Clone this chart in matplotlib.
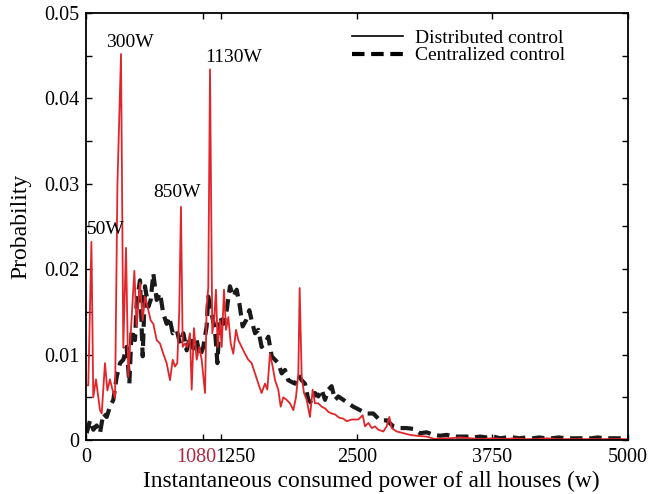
import matplotlib.pyplot as plt
import matplotlib.transforms as mtransforms
from matplotlib.lines import Line2D

# distributed control (red)
dist_power = [0, 21, 50, 67, 92, 129, 145, 175, 197, 221, 246, 268, 290, 323, 344, 369,
              390, 406, 446, 467, 498, 523, 544, 575, 597, 621, 652, 683, 713, 744, 775,
              800, 821, 842, 860, 876, 892, 913, 935, 959, 975, 996, 1021, 1046, 1067,
              1098, 1113, 1128, 1144, 1165, 1184, 1199, 1215, 1236, 1252, 1273, 1292,
              1313, 1335, 1359, 1384, 1405, 1436, 1467, 1497, 1528, 1559, 1590, 1620,
              1651, 1673, 1697, 1722, 1744, 1774, 1796, 1820, 1851, 1882, 1913, 1937,
              1959, 1971, 1990, 2011, 2036, 2066, 2091, 2112, 2143, 2174, 2205, 2236,
              2266, 2297, 2337, 2374, 2405, 2451, 2512, 2552, 2574, 2605, 2636, 2666,
              2697, 2743, 2774, 2798, 2820, 2866, 2928, 2989, 3050, 3143, 3220, 3266,
              3350, 3450, 3550, 3650, 3750, 3850, 3950, 4050, 4150, 4250, 4350, 4450,
              4550, 4650, 4750, 4850, 4950, 5000]
dist_prob = [0.0064, 0.0064, 0.0232, 0.0050, 0.0071, 0.0035, 0.0031, 0.0090, 0.0058,
             0.0071, 0.0058, 0.0049, 0.0300, 0.0452, 0.0108, 0.0225, 0.0074, 0.0109,
             0.0198, 0.0133, 0.0184, 0.0140, 0.0168, 0.0152, 0.0140, 0.0136, 0.0117,
             0.0113, 0.0101, 0.0090, 0.0070, 0.0094, 0.0086, 0.0090, 0.0150, 0.0273,
             0.0109, 0.0113, 0.0109, 0.0125, 0.0059, 0.0131, 0.0094, 0.0109, 0.0094,
             0.0055, 0.0156, 0.0178, 0.0434, 0.0125, 0.0144, 0.0176, 0.0109, 0.0140,
             0.0109, 0.0176, 0.0129, 0.0144, 0.0113, 0.0101, 0.0129, 0.0117, 0.0109,
             0.0101, 0.0094, 0.0090, 0.0078, 0.0066, 0.0055, 0.0066, 0.0059, 0.0101,
             0.0086, 0.0070, 0.0059, 0.0039, 0.0050, 0.0047, 0.0043, 0.0035, 0.0050,
             0.0078, 0.0178, 0.0074, 0.0055, 0.0047, 0.0027, 0.0059, 0.0043, 0.0043,
             0.0039, 0.0037, 0.0033, 0.0031, 0.0030, 0.0026, 0.0025, 0.0022, 0.0024,
             0.0024, 0.0029, 0.0016, 0.0020, 0.0014, 0.0016, 0.0012, 0.0010, 0.0016,
             0.0027, 0.0014, 0.0010, 0.0008, 0.0006, 0.0005, 0.0004, 0.0001, 0.0002,
             0.0002, 0.0003, 0.0002, 0.0001, 0.0002, 0.0001, 0.0002, 0.0001, 0.0001,
             0.0002, 0.0001, 0.0001, 0.0001, 0.0001, 0.0001, 0.0001, 0.0001, 0.0001]

# centralized control (black dashed)
cent_power = [6, 37, 68, 98, 129, 160, 191, 221, 252, 283, 314, 344, 375, 400, 421, 452,
              467, 498, 523, 544, 575, 597, 621, 652, 683, 713, 744, 768, 800, 837, 867,
              898, 929, 959, 990, 1021, 1052, 1082, 1113, 1128, 1159, 1190, 1212, 1236,
              1267, 1298, 1328, 1359, 1390, 1415, 1445, 1476, 1507, 1528, 1559, 1590,
              1620, 1651, 1682, 1713, 1744, 1774, 1805, 1836, 1866, 1897, 1928, 1959,
              1990, 2020, 2051, 2082, 2112, 2143, 2174, 2205, 2236, 2266, 2297, 2328,
              2374, 2420, 2466, 2528, 2589, 2651, 2712, 2774, 2835, 2897, 2958, 3020,
              3081, 3143, 3205, 3266, 3328, 3389, 3450, 3512, 3573, 3635, 3700, 3760,
              3820, 3880, 3940, 4000, 4060, 4120, 4180, 4240, 4300, 4360, 4420, 4480,
              4540, 4600, 4660, 4720, 4780, 4840, 4900, 4960, 5000]
cent_prob = [0.0008, 0.0023, 0.0012, 0.0017, 0.0008, 0.0031, 0.0027, 0.0039, 0.0047,
             0.0074, 0.0090, 0.0094, 0.0109, 0.0066, 0.0129, 0.0117, 0.0160, 0.0187,
             0.0098, 0.0180, 0.0156, 0.0164, 0.0195, 0.0164, 0.0172, 0.0148, 0.0136,
             0.0144, 0.0125, 0.0129, 0.0113, 0.0125, 0.0105, 0.0121, 0.0107, 0.0117,
             0.0098, 0.0109, 0.0133, 0.0168, 0.0148, 0.0129, 0.0090, 0.0144, 0.0136,
             0.0152, 0.0180, 0.0168, 0.0176, 0.0160, 0.0133, 0.0140, 0.0152, 0.0140,
             0.0125, 0.0129, 0.0109, 0.0113, 0.0121, 0.0098, 0.0094, 0.0090, 0.0078,
             0.0082, 0.0070, 0.0068, 0.0066, 0.0076, 0.0070, 0.0066, 0.0047, 0.0043,
             0.0055, 0.0051, 0.0059, 0.0047, 0.0059, 0.0063, 0.0047, 0.0051, 0.0047,
             0.0043, 0.0039, 0.0035, 0.0031, 0.0031, 0.0023, 0.0023, 0.0016, 0.0014,
             0.0014, 0.0013, 0.0008, 0.0009, 0.0006, 0.0005, 0.0006, 0.0004, 0.0004,
             0.0004, 0.0003, 0.0004, 0.0003, 0.0004, 0.0002, 0.0003, 0.0003, 0.0002,
             0.0003, 0.0002, 0.0003, 0.0002, 0.0002, 0.0003, 0.0002, 0.0002, 0.0002,
             0.0002, 0.0002, 0.0003, 0.0002, 0.0002, 0.0002, 0.0002, 0.0002]

peak_labels = ['50W', '300W', '850W', '1130W']
peak_pos = [185, 403, 840, 1365]
peak_y = [0.0247, 0.0466, 0.0290, 0.0448]

x_ticks = [0, 1080, 1250, 2500, 3750, 5000]
y_ticks = [0, 0.01, 0.02, 0.03, 0.04, 0.05]
y_tick_labels = ['0', '0.01', '0.02', '0.03', '0.04', '0.05']

plt.rcParams['font.family'] = ['Liberation Serif', 'DejaVu Serif']

fig = plt.figure(figsize=(6.53, 4.94), dpi=100)
ax = fig.add_axes([0.1317, 0.1093, 0.83, 0.8644])

ax.plot(cent_power, cent_prob, color='#1a1a1a', lw=3.0, dashes=(3.0, 1.6))
ax.plot(dist_power, dist_prob, color='#e0262b', lw=1.3)

for lab, px, py in zip(peak_labels, peak_pos, peak_y):
    ax.text(px, py, lab, ha='center', va='center', fontsize=14)

ax.set_xlim(0, 5000)
ax.set_ylim(0, 0.05)
ax.set_xticks(x_ticks)
ax.set_xticklabels([str(t) for t in x_ticks])
ax.set_yticks(y_ticks)
ax.set_yticklabels(y_tick_labels)
ax.set_yticks([0.005, 0.015, 0.025, 0.035, 0.045], minor=True)
ax.tick_params(which='both', direction='in', top=True, right=True, length=4,
               width=1.0, labelsize=14.5)
ax.tick_params(axis='x', pad=6)
ax.tick_params(axis='y', pad=5)

# the two crowded labels are nudged apart, as in the original
xl = ax.get_xticklabels()
xl[1].set_color('#b0283f')
xl[1].set_transform(xl[1].get_transform() +
                    mtransforms.ScaledTranslation(-7 / 100, 0, fig.dpi_scale_trans))
xl[2].set_transform(xl[2].get_transform() +
                    mtransforms.ScaledTranslation(14 / 100, 0, fig.dpi_scale_trans))

for s in ax.spines.values():
    s.set_linewidth(1.3)

ax.set_xlabel('Instantaneous consumed power of all houses (w)', fontsize=16.8)
ax.xaxis.set_label_coords((371 - 86) / 542, -0.072)
ax.set_ylabel('Probability', fontsize=17, labelpad=9)

handles = [Line2D([], [], color='black', lw=1.2),
           Line2D([], [], color='black', lw=3.0, dashes=(3.0, 1.6))]
ax.legend(handles, ['Distributed control', 'Centralized control'], loc='upper right',
          bbox_to_anchor=(0.91, 0.994), frameon=False, fontsize=14, handlelength=2.6,
          handletextpad=0.65, labelspacing=0.0, borderaxespad=0.3)

fig.savefig('out.png', dpi=100)
